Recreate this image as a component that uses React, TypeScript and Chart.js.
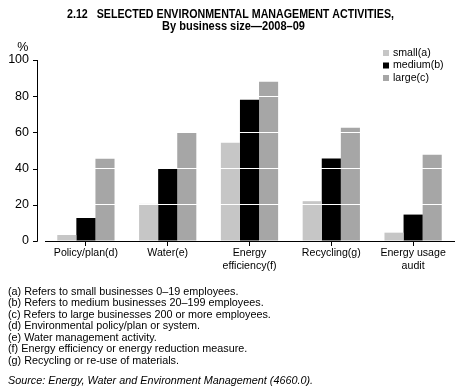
import React, { useEffect, useRef } from "react";
import { Chart, registerables } from "chart.js";

Chart.register(...registerables);

const categories: string[][] = [
  ["Policy/plan(d)"],
  ["Water(e)"],
  ["Energy", "efficiency(f)"],
  ["Recycling(g)"],
  ["Energy usage", "audit"],
];
const seriesNames = ["small(a)", "medium(b)", "large(c)"];
const smallValues = [3.3, 20.5, 54.3, 22.0, 4.6];
const mediumValues = [12.7, 40.0, 78.0, 45.6, 14.6];
const largeValues = [45.4, 60.0, 88.0, 62.6, 47.6];
const seriesColors = ["#c6c6c6", "#000000", "#a6a6a6"];
const yTickValues = [0, 20, 40, 60, 80, 100];
const titleLines = [
  "2.12   SELECTED ENVIRONMENTAL MANAGEMENT ACTIVITIES,",
  "By business size\u20142008\u201309",
];
const yUnit = "%";
const footnotes = [
  "(a) Refers to small businesses 0\u201319 employees.",
  "(b) Refers to medium businesses 20\u2013199 employees.",
  "(c) Refers to large businesses 200 or more employees.",
  "(d) Environmental policy/plan or system.",
  "(e) Water management activity.",
  "(f) Energy efficiency or energy reduction measure.",
  "(g) Recycling or re-use of materials.",
];
const sourceNote = "Source: Energy, Water and Environment Management (4660.0).";

const FONT = "'Liberation Sans', Arial, Helvetica, sans-serif";

const decorPlugin = {
  id: "decor",
  afterDraw(chart: any) {
    const ctx: CanvasRenderingContext2D = chart.ctx;
    const area = chart.chartArea;
    const yScale = chart.scales.y;
    ctx.save();
    ctx.fillStyle = "#000";
    ctx.strokeStyle = "#000";

    // Title (bold, horizontally condensed)
    ctx.font = `bold 12.5px ${FONT}`;
    ctx.textAlign = "left";
    ctx.textBaseline = "alphabetic";
    const specs = [
      { text: titleLines[0], left: 67, width: 327, base: 17.5 },
      { text: titleLines[1], left: 162, width: 143, base: 30 },
    ];
    for (const s of specs) {
      const w = ctx.measureText(s.text).width;
      ctx.save();
      ctx.translate(s.left, s.base);
      ctx.scale(s.width / w, 1);
      ctx.fillText(s.text, 0, 0);
      ctx.restore();
    }

    // Unit label
    ctx.font = `12.5px ${FONT}`;
    ctx.textAlign = "center";
    ctx.textBaseline = "middle";
    ctx.fillText(yUnit, 22.7, 47.5);

    // Y axis line and tick marks
    const ax = area.left - 7.5;
    ctx.lineWidth = 1;
    ctx.beginPath();
    ctx.moveTo(ax, area.top);
    ctx.lineTo(ax, area.bottom + 0.5);
    for (const v of yTickValues) {
      const py = Math.round(yScale.getPixelForValue(v)) + 0.5;
      ctx.moveTo(ax - 4.5, py);
      ctx.lineTo(ax, py);
    }
    ctx.stroke();

    // Legend
    ctx.font = `10.6px ${FONT}`;
    ctx.textAlign = "left";
    ctx.textBaseline = "middle";
    const legendY = [53, 65.5, 78];
    chart.data.datasets.forEach((ds: any, i: number) => {
      ctx.fillStyle = ds.backgroundColor;
      ctx.fillRect(383, legendY[i] - 3, 6, 6);
      ctx.fillStyle = "#000";
      ctx.fillText(ds.label, 393, legendY[i]);
    });

    // Footnotes
    ctx.font = `10.8px ${FONT}`;
    footnotes.forEach((t, i) => {
      ctx.fillText(t, 8, 291.7 + i * 11.55);
    });
    ctx.font = `italic 10.8px ${FONT}`;
    ctx.fillText(sourceNote, 8, 380.7);

    ctx.restore();
  },
};

export default function App() {
  const ref = useRef<HTMLCanvasElement>(null);

  useEffect(() => {
    const values = [smallValues, mediumValues, largeValues];
    const chart = new Chart(ref.current as HTMLCanvasElement, {
      type: "bar",
      data: {
        labels: categories,
        datasets: seriesNames.map((name, i) => ({
          label: name,
          data: values[i],
          backgroundColor: seriesColors[i],
          borderWidth: 0,
          categoryPercentage: 0.7,
          barPercentage: 1.0,
        })),
      },
      options: {
        responsive: false,
        animation: false,
        devicePixelRatio: 1,
        layout: { padding: { left: 0, right: 11, top: 60, bottom: 0 } },
        plugins: {
          legend: { display: false },
          title: { display: false },
          tooltip: { enabled: false },
        },
        scales: {
          x: {
            offset: true,
            grid: {
              display: true,
              offset: false,
              drawOnChartArea: false,
              drawTicks: true,
              tickLength: 5,
              color: "#000",
              lineWidth: 1,
              z: 2,
            },
            border: { display: true, color: "#000", width: 1, z: 2 },
            ticks: {
              color: "#000",
              font: { family: FONT, size: 10.6, lineHeight: 1.23 },
              padding: 1,
              maxRotation: 0,
              autoSkip: false,
            },
            afterFit: (s: any) => {
              s.height = 149;
            },
          },
          y: {
            min: 0,
            max: 100,
            grid: {
              color: (c: any) =>
                c.tick && c.tick.value === 0 ? "rgba(0,0,0,0)" : "#ffffff",
              drawTicks: false,
              lineWidth: 1,
              z: 1,
            },
            border: { display: false },
            ticks: {
              stepSize: 20,
              color: "#000",
              font: { family: FONT, size: 12.5 },
              padding: 16,
            },
            afterFit: (s: any) => {
              s.width = 45;
            },
          },
        },
      },
      plugins: [decorPlugin],
    } as any);
    return () => chart.destroy();
  }, []);

  return (
    <div
      style={{
        position: "fixed",
        left: 0,
        top: 0,
        width: 465,
        height: 390,
        background: "#fff",
      }}
    >
      <canvas
        ref={ref}
        width={465}
        height={390}
        style={{ display: "block", width: 465, height: 390 }}
      />
    </div>
  );
}
